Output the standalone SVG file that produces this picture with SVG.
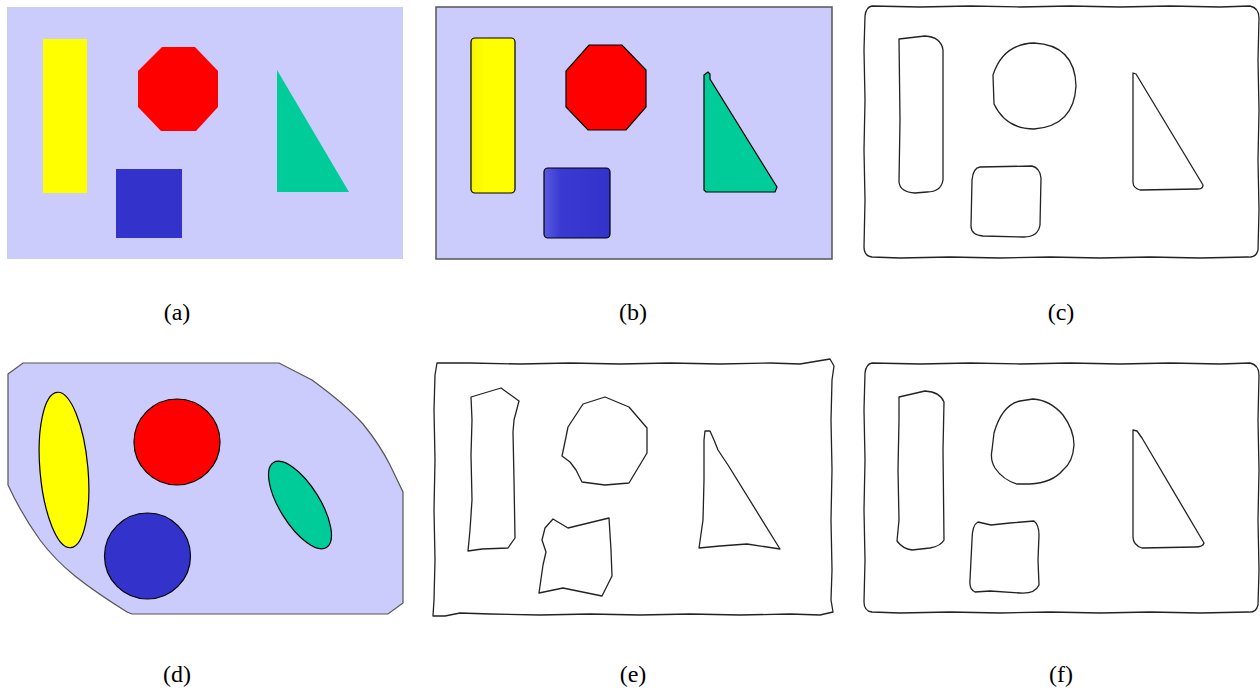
<svg xmlns="http://www.w3.org/2000/svg" width="1260" height="693" viewBox="0 0 1260 693">
<style>
.bg{fill:#ccccfc}
.yel{fill:#ffff00}
.red{fill:#ff0000}
.blu{fill:#3333cc}
.grn{fill:#00cc99}
.ol{stroke:#000;stroke-width:1.2}
.edge{fill:none;stroke:#222;stroke-width:1.3;stroke-linejoin:round}
.lbl{font-family:"Liberation Serif","Times New Roman",serif;font-size:24px;fill:#000;text-anchor:middle}
</style>
<defs>
<linearGradient id="sqg" x1="0" y1="0" x2="1" y2="0">
<stop offset="0" stop-color="#5a5ae0"/>
<stop offset="0.25" stop-color="#3a3ad2"/>
<stop offset="1" stop-color="#3333cc"/>
</linearGradient>
<linearGradient id="yg" x1="0" y1="0" x2="1" y2="0">
<stop offset="0" stop-color="#f4f400"/>
<stop offset="0.3" stop-color="#ffff00"/>
</linearGradient>
</defs>
<rect width="1260" height="693" fill="#fff"/>

<!-- (a) -->
<g id="panel-a">
<rect class="bg" x="7" y="7" width="396" height="252"/>
<rect class="yel" x="43" y="39" width="44" height="154"/>
<polygon class="red" points="162,47 195,47 218,71 218,107 196,131 161,131 138,107 138,71"/>
<rect class="blu" x="116" y="169" width="66" height="69"/>
<polygon class="grn" points="277,70 277,192 349,192"/>
</g>

<!-- (b) -->
<g id="panel-b">
<rect class="bg" x="436" y="7" width="396" height="252" stroke="#555" stroke-width="1.5"/>
<rect x="471" y="38" width="44" height="155" rx="4" fill="url(#yg)" class="ol"/>
<polygon class="red ol" points="589,45 622,45 646,70 646,107 626,130 588,130 566,107 566,71"/>
<rect x="544" y="168" width="66" height="70" rx="4" fill="url(#sqg)" class="ol"/>
<path class="grn ol" d="M704,75 L708,72 L710,74 L710,79 L777,187 L775,192 L706,192 L704,190 Z"/>
</g>

<!-- (c) -->
<g id="panel-c">
<path class="edge" d="M872,6 L920,7 L970,6 L1020,7 L1070,6 L1120,7 L1170,6 L1220,7 L1250,6 Q1259,8 1259,18 L1258,60 L1259,110 L1258,160 L1259,210 L1258,250 Q1256,258 1248,257 L1200,258 L1150,257 L1100,258 L1050,257 L1000,258 L950,257 L900,258 L872,257 Q864,256 864,247 L865,200 L864,150 L865,100 L864,50 L865,16 Q866,7 872,6 Z"/>
<path class="edge" d="M899,39 L925,36 Q941,37 943,50 L943,180 Q941,192 927,192 L915,193 Q900,192 899,182 L900,120 L899,39 Z"/>
<path class="edge" d="M1034,43 Q1075,45 1076,86 Q1074,126 1034,129 Q1006,129 994,104 L993,75 Q1003,44 1034,43 Z"/>
<path class="edge" d="M980,167 L1032,166 Q1040,168 1041,178 L1040,225 Q1038,237 1024,237 L983,236 Q971,235 971,226 L972,180 Q973,168 980,167 Z"/>
<path class="edge" d="M1133,73 L1136,74 L1203,185 Q1203,189 1198,189 L1140,190 Q1133,188 1133,182 Z"/>
</g>

<!-- (d) -->
<g id="panel-d">
<path class="bg" stroke="#555" stroke-width="1.2" d="M8,374 L23,363 L279,363 L312,380 Q345,404 363,424 Q380,445 390,465 L403,492 L403,603 L388,614 L132,614 L127,612 Q95,592 75,576 Q55,560 40,540 Q22,515 8,485 Z"/>
<ellipse class="yel ol" cx="64" cy="470" rx="24" ry="78" transform="rotate(-5 64 470)"/>
<circle class="red ol" cx="177" cy="442" r="43"/>
<circle class="blu ol" cx="147.5" cy="556" r="43"/>
<ellipse class="grn ol" cx="300" cy="505" rx="20" ry="50" transform="rotate(-32 300 505)"/>
</g>

<!-- (e) -->
<g id="panel-e">
<path class="edge" d="M437,363 L470,363 L520,364 L570,363 L620,364 L670,363 L720,364 L770,363 L800,364 L818,361 L830,359 L834,366 L832,380 L831,420 L832,470 L831,520 L832,570 L831,600 L833,612 L820,615 L790,614 L740,615 L690,614 L640,615 L590,614 L540,615 L490,614 L460,613 L445,616 L433,616 L434,600 L435,560 L434,510 L435,460 L434,410 L435,375 Z"/>
<path class="edge" d="M471,397 L501,388 L519,401 L514,420 L513,432 L514,480 L515,538 L508,548 L482,549 L468,551 L470,530 L472,500 L471,455 L472,420 Z"/>
<path class="edge" d="M583,404 L605,397 L629,407 L647,428 L647,453 L629,483 L605,485 L582,482 L576,470 L570,462 L562,456 L566,437 L568,427 Z"/>
<path class="edge" d="M553,519 L568,528 L609,518 L611,550 L612,576 L602,596 L563,588 L539,593 L543,565 L546,552 L542,540 L545,528 Z"/>
<path class="edge" d="M705,431 L710,431 L714,440 L718,450 L728,465 L780,549 L747,544 L720,546 L699,548 L703,520 L704,480 L704,440 Z"/>
</g>

<!-- (f) -->
<g id="panel-f">
<path class="edge" d="M872,363 L920,364 L970,363 L1020,364 L1070,363 L1120,364 L1170,363 L1220,364 L1250,363 Q1259,365 1259,375 L1258,420 L1259,470 L1258,520 L1259,570 L1258,605 Q1256,613 1248,612 L1200,613 L1150,612 L1100,613 L1050,612 L1000,613 L950,612 L900,613 L872,612 Q864,611 864,602 L865,560 L864,510 L865,460 L864,410 L865,373 Q866,364 872,363 Z"/>
<path class="edge" d="M899,397 L925,391 Q940,392 944,402 L943,450 L944,540 Q941,546 930,548 L912,550 Q903,549 897,541 L899,520 L898,470 L899,420 Z"/>
<path class="edge" d="M1033,399 Q1050,400 1063,415 Q1074,430 1074,445 Q1073,462 1063,470 Q1052,483 1030,484 L1017,484 Q1003,480 995,468 Q990,460 992,450 L994,433 Q1002,405 1020,401 Z"/>
<path class="edge" d="M978,522 L991,525 L1010,523 L1034,521 Q1039,525 1039,535 L1038,560 L1039,585 Q1035,594 1020,593 L990,591 L975,592 Q969,589 970,580 L972,540 Q972,525 978,522 Z"/>
<path class="edge" d="M1133,430 L1137,431 L1142,438 L1204,543 Q1203,547 1195,547 L1142,548 Q1133,545 1133,537 Z"/>
</g>

<g id="labels">
<text class="lbl" x="177" y="320">(a)</text>
<text class="lbl" x="633" y="320">(b)</text>
<text class="lbl" x="1061" y="320">(c)</text>
<text class="lbl" x="177" y="682">(d)</text>
<text class="lbl" x="633" y="682">(e)</text>
<text class="lbl" x="1061" y="682">(f)</text>
</g>
</svg>
